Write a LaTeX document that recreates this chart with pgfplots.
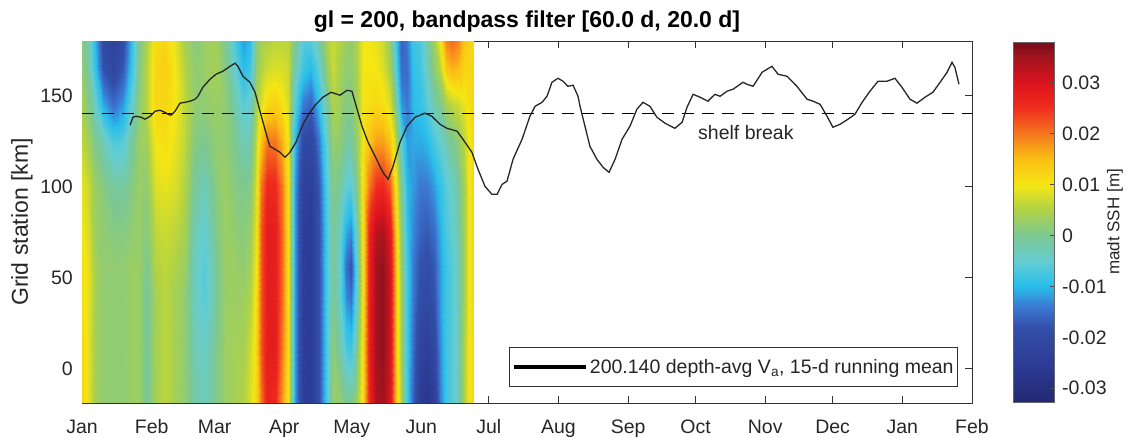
\documentclass[border=0pt]{standalone}
\usepackage{fontspec}
\setmainfont{Liberation Sans}
\usepackage{pgfplots}
\pgfplotsset{compat=1.18}
\pgfplotsset{colormap={ssh}{rgb255(0pt)=(35,40,115); rgb255(77pt)=(45,60,150); rgb255(147pt)=(50,80,170); rgb255(187pt)=(60,120,210); rgb255(227pt)=(40,190,235); rgb255(277pt)=(100,205,210); rgb255(327pt)=(125,200,145); rgb255(377pt)=(175,210,70); rgb255(427pt)=(245,230,20); rgb255(477pt)=(250,190,20); rgb255(527pt)=(245,120,30); rgb255(577pt)=(240,45,30); rgb255(627pt)=(220,20,30); rgb255(677pt)=(160,20,30); rgb255(707pt)=(120,10,25)}}
\begin{document}
\begin{tikzpicture}
\useasboundingbox (0,0) rectangle (1138pt,438pt);
\begin{axis}[
  at={(82pt,35pt)}, anchor=south west,
  width=890pt, height=362pt, scale only axis,
  xmin=0, xmax=396, ymin=-19, ymax=180,
  xtick={0,31,59,90,120,151,181,212,243,273,304,334,365,396},
  xticklabels={Jan,Feb,Mar,Apr,May,Jun,Jul,Aug,Sep,Oct,Nov,Dec,Jan,Feb},
  ytick={0,50,100,150},
  tick align=inside, xtick pos=both, ytick pos=both,
  major tick length=7pt,
  axis line style={draw=black!80, line width=0.9pt},
  every tick/.style={black!80, line width=0.9pt},
  tick label style={font=\fontsize{19.5}{22}\selectfont, text=black!85},
  /pgf/number format/assume math mode=true,
  xticklabel style={anchor=base, yshift=-31pt},
  yticklabel style={anchor=east, inner sep=0pt, xshift=-9pt},
  title={gl = 200, bandpass filter [60.0 d, 20.0 d]},
  every axis title/.style={at={(axis description cs:0.5,1)}, anchor=base, yshift=13pt, font=\bfseries\fontsize{23}{26}\selectfont, text=black},
  ylabel={Grid station [km]},
  every axis y label/.style={at={(axis description cs:-0.0674,0.5)}, rotate=90, anchor=center, font=\fontsize{23}{26}\selectfont, text=black!85},
  colormap name=ssh, point meta min=-32.7, point meta max=38,
  legend style={at={(0.9843,0.0442)}, anchor=south east, draw=black!80, line width=0.8pt, font=\fontsize{19.5}{22}\selectfont, text=black!85, inner xsep=2pt, inner ysep=10pt},
  legend cell align=left,
]
\addplot[surf, shader=interp, mesh/rows=10, mesh/cols=55, mesh/ordering=y varies, point meta=explicit, forget plot] coordinates {
(0,-19)[12] (0,10)[12] (0,40)[11] (0,55)[11] (0,75)[10] (0,100)[9] (0,125)[6] (0,145)[4] (0,165)[2] (0,180)[1]
(2.7,-19)[9] (2.7,10)[9] (2.7,40)[9] (2.7,55)[9] (2.7,75)[8] (2.7,100)[7] (2.7,125)[4] (2.7,145)[1] (2.7,165)[-1] (2.7,180)[-2]
(5.8,-19)[4] (5.8,10)[4] (5.8,40)[4] (5.8,55)[4] (5.8,75)[3] (5.8,100)[3] (5.8,125)[0] (5.8,145)[-4] (5.8,165)[-9] (5.8,180)[-10]
(9.3,-19)[2] (9.3,10)[2] (9.3,40)[2] (9.3,55)[2] (9.3,75)[2] (9.3,100)[1] (9.3,125)[-3] (9.3,145)[-11] (9.3,165)[-18] (9.3,180)[-20]
(13.8,-19)[2] (13.8,10)[2] (13.8,40)[2] (13.8,55)[2] (13.8,75)[1] (13.8,100)[-1] (13.8,125)[-7] (13.8,145)[-15] (13.8,165)[-21] (13.8,180)[-23]
(18.2,-19)[2] (18.2,10)[2] (18.2,40)[2] (18.2,55)[2] (18.2,75)[1] (18.2,100)[-1] (18.2,125)[-6] (18.2,145)[-12] (18.2,165)[-17] (18.2,180)[-19]
(21.8,-19)[3] (21.8,10)[3] (21.8,40)[3] (21.8,55)[3] (21.8,75)[2] (21.8,100)[1] (21.8,125)[-1] (21.8,145)[-5] (21.8,165)[-9] (21.8,180)[-10]
(25.4,-19)[3] (25.4,10)[3] (25.4,40)[3] (25.4,55)[3] (25.4,75)[3] (25.4,100)[3] (25.4,125)[3] (25.4,145)[2] (25.4,165)[1] (25.4,180)[0]
(28.9,-19)[-1] (28.9,10)[-1] (28.9,40)[-1] (28.9,55)[0] (28.9,75)[1] (28.9,100)[2] (28.9,125)[4] (28.9,145)[6] (28.9,165)[6] (28.9,180)[5]
(32.5,-19)[4] (32.5,10)[4] (32.5,40)[4] (32.5,55)[5] (32.5,75)[6] (32.5,100)[8] (32.5,125)[10] (32.5,145)[12] (32.5,165)[12] (32.5,180)[11]
(36.9,-19)[6] (36.9,10)[6] (36.9,40)[6] (36.9,55)[6] (36.9,75)[7] (36.9,100)[9] (36.9,125)[11] (36.9,145)[12] (36.9,165)[13] (36.9,180)[12]
(41.4,-19)[4] (41.4,10)[4] (41.4,40)[4] (41.4,55)[5] (41.4,75)[6] (41.4,100)[8] (41.4,125)[9] (41.4,145)[10] (41.4,165)[10] (41.4,180)[9]
(45.8,-19)[2] (45.8,10)[2] (45.8,40)[2] (45.8,55)[3] (45.8,75)[4] (45.8,100)[5] (45.8,125)[6] (45.8,145)[6] (45.8,165)[5] (45.8,180)[4]
(50.3,-19)[-2] (50.3,10)[-3] (50.3,40)[-4] (50.3,55)[-4] (50.3,75)[-3] (50.3,100)[-1] (50.3,125)[1] (50.3,145)[2] (50.3,165)[2] (50.3,180)[1]
(54.7,-19)[-3] (54.7,10)[-4] (54.7,40)[-6] (54.7,55)[-6] (54.7,75)[-5] (54.7,100)[-3] (54.7,125)[0] (54.7,145)[2] (54.7,165)[3] (54.7,180)[3]
(59.2,-19)[0] (59.2,10)[0] (59.2,40)[-1] (59.2,55)[-1] (59.2,75)[0] (59.2,100)[1] (59.2,125)[2] (59.2,145)[3] (59.2,165)[4] (59.2,180)[4]
(63.6,-19)[3] (63.6,10)[3] (63.6,40)[3] (63.6,55)[3] (63.6,75)[3] (63.6,100)[3] (63.6,125)[2] (63.6,145)[2] (63.6,165)[1] (63.6,180)[0]
(68.1,-19)[4] (68.1,10)[4] (68.1,40)[3] (68.1,55)[3] (68.1,75)[2] (68.1,100)[1] (68.1,125)[0] (68.1,145)[-2] (68.1,165)[-5] (68.1,180)[-7]
(71.6,-19)[5] (71.6,10)[4] (71.6,40)[3] (71.6,55)[2] (71.6,75)[1] (71.6,100)[0] (71.6,125)[-3] (71.6,145)[-6] (71.6,165)[-10] (71.6,180)[-12]
(74.8,-19)[8] (74.8,10)[7] (74.8,40)[5] (74.8,55)[4] (74.8,75)[3] (74.8,100)[1] (74.8,125)[-2] (74.8,145)[-4] (74.8,165)[-8] (74.8,180)[-10]
(77.4,-19)[12] (77.4,10)[12] (77.4,40)[11] (77.4,55)[10] (77.4,75)[9] (77.4,100)[8] (77.4,125)[6] (77.4,145)[4] (77.4,165)[2] (77.4,180)[1]
(79.6,-19)[20] (79.6,10)[22] (79.6,40)[22] (79.6,55)[22] (79.6,75)[22] (79.6,100)[20] (79.6,125)[14] (79.6,145)[8] (79.6,165)[5] (79.6,180)[4]
(82.3,-19)[27] (82.3,10)[28] (82.3,40)[28] (82.3,55)[28] (82.3,75)[28] (82.3,100)[26] (82.3,125)[20] (82.3,145)[12] (82.3,165)[7] (82.3,180)[5]
(85.9,-19)[26] (85.9,10)[28] (85.9,40)[28] (85.9,55)[28] (85.9,75)[28] (85.9,100)[26] (85.9,125)[20] (85.9,145)[13] (85.9,165)[8] (85.9,180)[6]
(89.0,-19)[18] (89.0,10)[20] (89.0,40)[21] (89.0,55)[21] (89.0,75)[21] (89.0,100)[20] (89.0,125)[16] (89.0,145)[11] (89.0,165)[8] (89.0,180)[6]
(91.7,-19)[10] (91.7,10)[11] (91.7,40)[11] (91.7,55)[11] (91.7,75)[11] (91.7,100)[11] (91.7,125)[10] (91.7,145)[8] (91.7,165)[7] (91.7,180)[6]
(94.8,-19)[-12] (94.8,10)[-12] (94.8,40)[-12] (94.8,55)[-12] (94.8,75)[-12] (94.8,100)[-12] (94.8,125)[-10] (94.8,145)[-6] (94.8,165)[-2] (94.8,180)[0]
(98.3,-19)[-24] (98.3,10)[-24] (98.3,40)[-24] (98.3,55)[-24] (98.3,75)[-24] (98.3,100)[-23] (98.3,125)[-20] (98.3,145)[-14] (98.3,165)[-8] (98.3,180)[-6]
(101.9,-19)[-25] (101.9,10)[-25] (101.9,40)[-25] (101.9,55)[-25] (101.9,75)[-25] (101.9,100)[-24] (101.9,125)[-21] (101.9,145)[-16] (101.9,165)[-10] (101.9,180)[-6]
(105.5,-19)[-18] (105.5,10)[-18] (105.5,40)[-18] (105.5,55)[-18] (105.5,75)[-18] (105.5,100)[-17] (105.5,125)[-14] (105.5,145)[-9] (105.5,165)[-5] (105.5,180)[-2]
(108.6,-19)[-8] (108.6,10)[-8] (108.6,40)[-8] (108.6,55)[-8] (108.6,75)[-8] (108.6,100)[-7] (108.6,125)[-5] (108.6,145)[-2] (108.6,165)[2] (108.6,180)[4]
(111.7,-19)[3] (111.7,10)[2] (111.7,40)[0] (111.7,55)[0] (111.7,75)[0] (111.7,100)[1] (111.7,125)[3] (111.7,145)[5] (111.7,165)[7] (111.7,180)[7]
(114.8,-19)[2] (114.8,10)[-2] (114.8,40)[-5] (114.8,55)[-5] (114.8,75)[-4] (114.8,100)[-1] (114.8,125)[2] (114.8,145)[3] (114.8,165)[4] (114.8,180)[5]
(117.5,-19)[0] (117.5,10)[-7] (117.5,40)[-13] (117.5,55)[-15] (117.5,75)[-11] (117.5,100)[-5] (117.5,125)[-1] (117.5,145)[1] (117.5,165)[2] (117.5,180)[3]
(119.7,-19)[0] (119.7,10)[-8] (119.7,40)[-15] (119.7,55)[-18] (119.7,75)[-13] (119.7,100)[-6] (119.7,125)[-1] (119.7,145)[1] (119.7,165)[2] (119.7,180)[2]
(122.4,-19)[4] (122.4,10)[1] (122.4,40)[-3] (122.4,55)[-4] (122.4,75)[-2] (122.4,100)[1] (122.4,125)[3] (122.4,145)[4] (122.4,165)[5] (122.4,180)[5]
(125.0,-19)[12] (125.0,10)[12] (125.0,40)[11] (125.0,55)[11] (125.0,75)[11] (125.0,100)[11] (125.0,125)[10] (125.0,145)[10] (125.0,165)[10] (125.0,180)[10]
(127.7,-19)[26] (127.7,10)[27] (127.7,40)[27] (127.7,55)[27] (127.7,75)[26] (127.7,100)[20] (127.7,125)[14] (127.7,145)[11] (127.7,165)[10] (127.7,180)[10]
(130.8,-19)[34] (130.8,10)[35] (130.8,40)[35] (130.8,55)[35] (130.8,75)[33] (130.8,100)[25] (130.8,125)[17] (130.8,145)[12] (130.8,165)[10] (130.8,180)[9]
(133.9,-19)[35] (133.9,10)[36] (133.9,40)[36] (133.9,55)[36] (133.9,75)[34] (133.9,100)[26] (133.9,125)[17] (133.9,145)[11] (133.9,165)[8] (133.9,180)[7]
(137.0,-19)[30] (137.0,10)[31] (137.0,40)[31] (137.0,55)[31] (137.0,75)[29] (137.0,100)[22] (137.0,125)[14] (137.0,145)[8] (137.0,165)[4] (137.0,180)[2]
(139.7,-19)[14] (139.7,10)[14] (139.7,40)[14] (139.7,55)[14] (139.7,75)[13] (139.7,100)[10] (139.7,125)[5] (139.7,145)[-1] (139.7,165)[-6] (139.7,180)[-8]
(141.9,-19)[5] (141.9,10)[4] (141.9,40)[4] (141.9,55)[3] (141.9,75)[2] (141.9,100)[0] (141.9,125)[-5] (141.9,145)[-12] (141.9,165)[-15] (141.9,180)[-16]
(144.6,-19)[-8] (144.6,10)[-8] (144.6,40)[-8] (144.6,55)[-8] (144.6,75)[-9] (144.6,100)[-10] (144.6,125)[-12] (144.6,145)[-14] (144.6,165)[-15] (144.6,180)[-14]
(147.3,-19)[-16] (147.3,10)[-15] (147.3,40)[-14] (147.3,55)[-14] (147.3,75)[-13] (147.3,100)[-12] (147.3,125)[-11] (147.3,145)[-10] (147.3,165)[-9] (147.3,180)[-8]
(150.4,-19)[-25] (150.4,10)[-22] (150.4,40)[-19] (150.4,55)[-18] (150.4,75)[-16] (150.4,100)[-14] (150.4,125)[-11] (150.4,145)[-9] (150.4,165)[-8] (150.4,180)[-7]
(153.5,-19)[-27] (153.5,10)[-24] (153.5,40)[-20] (153.5,55)[-19] (153.5,75)[-17] (153.5,100)[-14] (153.5,125)[-10] (153.5,145)[-6] (153.5,165)[-3] (153.5,180)[-2]
(156.6,-19)[-24] (156.6,10)[-21] (156.6,40)[-18] (156.6,55)[-17] (156.6,75)[-15] (156.6,100)[-12] (156.6,125)[-7] (156.6,145)[-2] (156.6,165)[2] (156.6,180)[4]
(159.3,-19)[-14] (159.3,10)[-13] (159.3,40)[-12] (159.3,55)[-12] (159.3,75)[-11] (159.3,100)[-9] (159.3,125)[-5] (159.3,145)[0] (159.3,165)[6] (159.3,180)[10]
(161.9,-19)[-8] (161.9,10)[-8] (161.9,40)[-8] (161.9,55)[-8] (161.9,75)[-7] (161.9,100)[-6] (161.9,125)[-2] (161.9,145)[4] (161.9,165)[14] (161.9,180)[19]
(164.6,-19)[-6] (164.6,10)[-6] (164.6,40)[-6] (164.6,55)[-6] (164.6,75)[-5] (164.6,100)[-4] (164.6,125)[0] (164.6,145)[6] (164.6,165)[16] (164.6,180)[21]
(167.3,-19)[-3] (167.3,10)[-3] (167.3,40)[-3] (167.3,55)[-3] (167.3,75)[-2] (167.3,100)[-1] (167.3,125)[2] (167.3,145)[7] (167.3,165)[15] (167.3,180)[19]
(170.0,-19)[5] (170.0,10)[5] (170.0,40)[4] (170.0,55)[4] (170.0,75)[4] (170.0,100)[4] (170.0,125)[6] (170.0,145)[9] (170.0,165)[12] (170.0,180)[14]
(172.2,-19)[10] (172.2,10)[10] (172.2,40)[10] (172.2,55)[10] (172.2,75)[10] (172.2,100)[10] (172.2,125)[10] (172.2,145)[11] (172.2,165)[12] (172.2,180)[12]
(174.0,-19)[12] (174.0,10)[12] (174.0,40)[12] (174.0,55)[12] (174.0,75)[12] (174.0,100)[12] (174.0,125)[12] (174.0,145)[12] (174.0,165)[12] (174.0,180)[12]
};
\addplot[forget plot, black, line width=1.3pt, dash pattern=on 12pt off 8pt] coordinates {(0,140) (396,140)};
\addplot[line width=1.3pt, color=black!85, legend image code/.code={\draw[line width=4.5pt, black] (0pt,0pt) -- (72pt,0pt);}] coordinates {
(21.4,133.7) (22.7,138.1) (24.0,138.6) (26.3,138.1) (28.0,137.0) (30.3,138.6) (32.5,141.4) (34.7,141.9) (36.9,140.8) (38.3,139.7) (39.6,139.2) (41.4,141.4) (43.6,145.8) (45.8,146.3) (48.1,146.9) (50.3,148.0) (51.6,149.6) (53.8,154.6) (57.0,159.0) (59.6,161.7) (62.7,163.4) (65.9,166.1) (68.1,167.8) (69.4,166.1) (71.6,160.6) (74.7,157.3) (77.0,151.8) (79.2,141.4) (81.4,131.5) (83.6,122.1) (85.9,120.5) (88.1,118.8) (90.3,116.1) (92.5,118.8) (95.2,124.3) (98.3,134.2) (101.4,140.8) (104.1,145.2) (107.2,149.1) (110.8,151.8) (114.8,150.2) (117.9,152.9) (120.1,152.4) (122.4,142.5) (124.6,133.1) (127.3,124.3) (130.4,116.6) (133.9,107.8) (136.2,104.0) (138.4,111.1) (141.5,124.3) (144.6,133.1) (148.2,138.1) (152.6,140.3) (155.7,138.6) (159.3,134.2) (162.4,132.0) (166.9,130.4) (169.5,126.0) (173.5,118.8) (176.2,109.5) (179.3,100.1) (182.4,95.7) (184.7,95.7) (186.9,101.2) (189.1,102.9) (191.8,115.0) (195.8,126.0) (199.3,138.6) (201.6,144.1) (204.7,146.3) (206.9,149.6) (209.1,157.3) (211.8,159.5) (214.0,157.9) (216.2,155.1) (218.5,155.7) (220.7,149.6) (221.6,144.1) (223.8,133.1) (226.0,122.1) (229.1,115.0) (231.8,110.6) (234.5,107.8) (237.2,115.0) (240.3,126.0) (243.8,133.1) (246.9,142.5) (249.6,146.3) (252.7,144.1) (255.8,138.1) (259.4,134.8) (263.8,132.0) (267.0,135.3) (269.2,143.6) (271.9,150.7) (275.0,149.1) (278.5,146.9) (281.6,150.7) (283.9,149.6) (287.0,152.4) (289.7,153.5) (294.1,157.3) (295.9,156.2) (298.6,155.1) (302.6,162.8) (307.0,166.1) (309.7,161.7) (313.7,160.6) (318.1,155.1) (322.6,148.0) (325.3,146.9) (328.4,145.2) (331.5,138.6) (334.1,132.6) (337.3,134.2) (340.8,137.0) (343.9,139.7) (347.1,146.3) (350.6,152.4) (354.2,157.9) (358.2,157.9) (361.7,159.5) (364.8,154.6) (368.4,148.0) (371.5,145.8) (375.1,149.1) (378.6,151.8) (381.8,157.3) (384.9,162.8) (387.1,168.3) (388.4,165.5) (390.2,156.2)
};
\addlegendentry{200.140 depth-avg V\textsubscript{a}, 15-d running mean}
\node[font=\fontsize{19.5}{22}\selectfont, text=black!85] at (axis cs:295.4,129.5) {shelf break};
\end{axis}
\begin{axis}[
  at={(1013pt,36pt)}, anchor=south west,
  width=41pt, height=360pt, scale only axis,
  xmin=0, xmax=1, ymin=-32.7, ymax=38,
  xtick=\empty,
  ytick={-30,-20,-10,0,10,20,30},
  yticklabels={-0.03,-0.02,-0.01,0,0.01,0.02,0.03},
  ytick pos=right, yticklabel pos=right, tick align=inside, major tick length=4pt,
  every tick/.style={black!70, line width=0.6pt},
  axis line style={draw=black!60, line width=0.6pt},
  yticklabel style={font=\fontsize{19.5}{22}\selectfont, text=black!85, anchor=west, inner sep=0pt, xshift=8pt},
  ylabel={madt SSH [m]},
  every axis y label/.style={at={(axis description cs:2.49,0.5)}, rotate=90, anchor=center, font=\fontsize{17}{20}\selectfont, text=black!85},
  colormap name=ssh, point meta min=-32.7, point meta max=38,
  axis on top,
]
\addplot[surf, shader=interp, mesh/rows=15, mesh/cols=2, point meta=explicit] coordinates {
(0,-32.7)[-32.7] (1,-32.7)[-32.7]
(0,-25)[-25] (1,-25)[-25]
(0,-18)[-18] (1,-18)[-18]
(0,-14)[-14] (1,-14)[-14]
(0,-10)[-10] (1,-10)[-10]
(0,-5)[-5] (1,-5)[-5]
(0,0)[0] (1,0)[0]
(0,5)[5] (1,5)[5]
(0,10)[10] (1,10)[10]
(0,15)[15] (1,15)[15]
(0,20)[20] (1,20)[20]
(0,25)[25] (1,25)[25]
(0,30)[30] (1,30)[30]
(0,35)[35] (1,35)[35]
(0,38)[38] (1,38)[38]
};
\end{axis}
\end{tikzpicture}
\end{document}
